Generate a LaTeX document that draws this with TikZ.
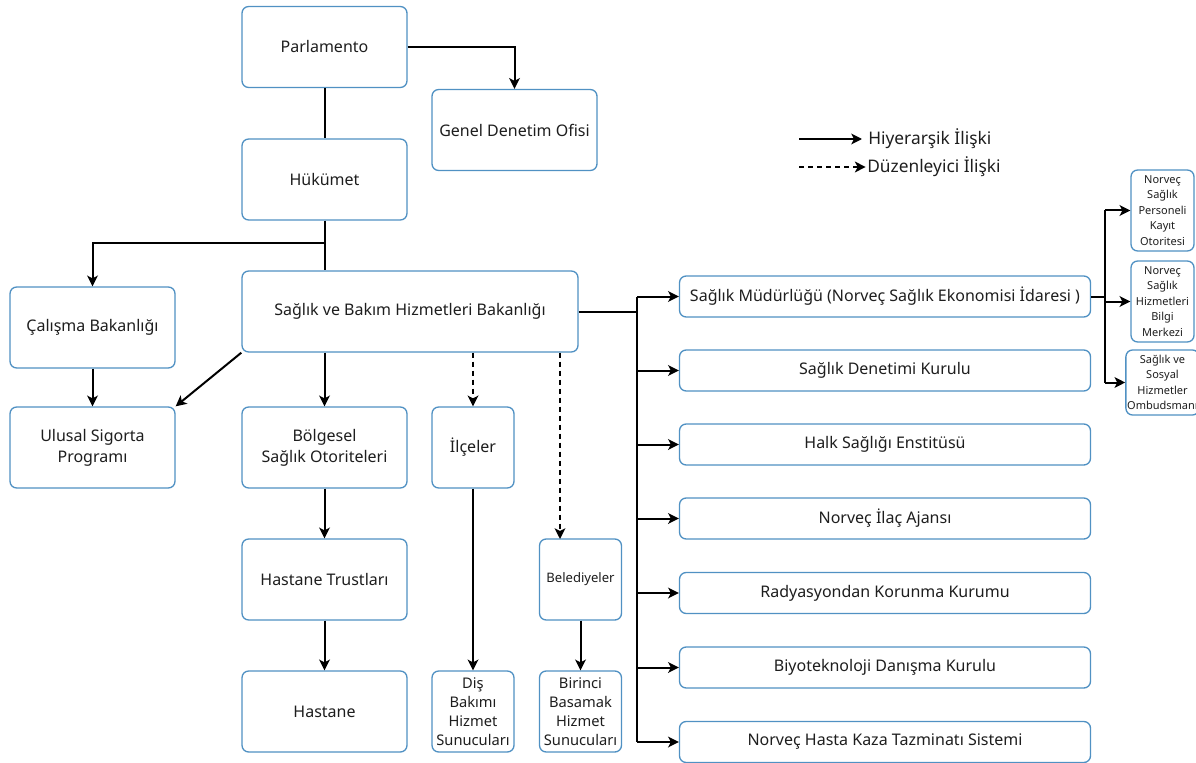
\documentclass[tikz,border=0pt]{standalone}
\usepackage{fontspec}
\setmainfont{Noto Sans}
\usetikzlibrary{arrows.meta}
\definecolor{kutucizgi}{RGB}{80,145,195}
\definecolor{yazirengi}{RGB}{30,30,30}

\begin{document}
\begin{tikzpicture}[x=0.75pt, y=-0.75pt,
    kutu/.style={draw=kutucizgi, line width=1pt, rounded corners=5pt, fill=white, text=yazirengi, align=center, inner sep=1pt, font=\fontsize{12}{15.75}\selectfont},
    buyuk/.style={kutu, minimum width=123.75pt, minimum height=60.75pt},
    dar/.style={kutu, minimum width=61.5pt, minimum height=60.75pt},
    serit/.style={kutu, minimum width=308.25pt, minimum height=30.75pt},
    kucuk/.style={kutu, minimum width=47.25pt, minimum height=60.75pt, font=\fontsize{8.25}{11.6}\selectfont},
    hat/.style={line width=1.5pt, black},
    ok/.style={hat, -{Stealth[length=8pt, width=8pt, inset=2pt]}},
    kesikok/.style={ok, dash pattern=on 3.75pt off 3pt}]
    \useasboundingbox (0,0) rectangle (1196,763);

    % ust kademe
    \node[buyuk] (parl) at (324.5,47) {Parlamento};
    \node[buyuk] (gdo) at (514.5,130) {Genel Denetim Ofisi};
    \node[buyuk] (huk) at (324.5,179.5) {Hükümet};

    % bakanliklar
    \node[buyuk] (calis) at (92.5,327.5) {Çalışma Bakanlığı};
    \node[kutu, minimum width=252pt, minimum height=60.75pt] (sbhb) at (410,311.5) {Sağlık ve Bakım Hizmetleri Bakanlığı};

    % ikinci sira
    \node[buyuk] (usp) at (92.5,447.5) {Ulusal Sigorta\\Programı};
    \node[buyuk] (bso) at (324.5,447.5) {Bölgesel\\Sağlık Otoriteleri};
    \node[dar] (ilce) at (473,447.5) {İlçeler};

    % alt siralar
    \node[buyuk] (htr) at (324.5,579.5) {Hastane Trustları};
    \node[dar, font=\fontsize{9.8}{11.6}\selectfont] (bele) at (580.5,579.5) {Belediyeler};
    \node[buyuk] (hast) at (324.5,711.5) {Hastane};
    \node[dar, font=\fontsize{11}{14.25}\selectfont] (dis) at (473,711.5) {Diş\\Bakımı\\Hizmet\\Sunucuları};
    \node[dar, font=\fontsize{11}{14.25}\selectfont] (bbhs) at (580.5,711.5) {Birinci\\Basamak\\Hizmet\\Sunucuları};

    % sag sutun - bagli kurumlar
    \node[serit] (r1) at (885,296.5) {Sağlık Müdürlüğü (Norveç Sağlık Ekonomisi İdaresi )};
    \node[serit] (r2) at (885,370.5) {Sağlık Denetimi Kurulu};
    \node[serit] (r3) at (885,444.5) {Halk Sağlığı Enstitüsü};
    \node[serit] (r4) at (885,518.5) {Norveç İlaç Ajansı};
    \node[serit] (r5) at (885,593) {Radyasyondan Korunma Kurumu};
    \node[serit] (r6) at (885,667.5) {Biyoteknoloji Danışma Kurulu};
    \node[serit] (r7) at (885,742) {Norveç Hasta Kaza Tazminatı Sistemi};

    % en sag - mudurluge bagli birimler
    \node[kucuk] (s1) at (1162.5,210.5) {Norveç\\Sağlık\\Personeli\\Kayıt\\Otoritesi};
    \node[kucuk] (s2) at (1162.5,301.5) {Norveç\\Sağlık\\Hizmetleri\\Bilgi\\Merkezi};
    \node[kucuk, minimum height=48.75pt] (s3) at (1162.5,382.5) {Sağlık ve\\Sosyal\\Hizmetler\\Ombudsmanı};

    % yardimci noktalar
    \coordinate (dal) at (324.5,243);
    \coordinate (belegiris) at (560,539);
    \coordinate (bus) at (637,0);
    \coordinate (kbus) at (1105,0);

    % ust kademe baglantilari
    \draw[ok] (parl.east) -| (gdo.north);
    \draw[hat] (parl) -- (huk);
    \draw[hat] (huk.south) -- (huk.south |- sbhb.north);
    \draw[ok] (dal) -| (calis.north);

    % bakanlik baglantilari
    \draw[ok] (calis) -- (usp);
    \draw[ok] (sbhb.south west) -- (usp.north east);
    \draw[ok] (bso.north |- sbhb.south) -- (bso.north);
    \draw[kesikok] (ilce.north |- sbhb.south) -- (ilce.north);
    \draw[kesikok] (belegiris |- sbhb.south) -- (belegiris);
    \draw[ok] (bso) -- (htr);
    \draw[ok] (htr) -- (hast);
    \draw[ok] (ilce) -- (dis);
    \draw[ok] (bele) -- (bbhs);

    % sag sutuna dagitim
    \draw[hat] (sbhb.east) -- (sbhb.east -| bus);
    \draw[hat] (bus |- r1) -- (bus |- r7);
    \foreach \i in {1,...,7}
        \draw[ok] (bus |- r\i) -- (r\i.west);

    % mudurluk alt birimleri
    \draw[hat] (r1.east) -- (r1.east -| kbus);
    \draw[hat] (kbus |- s1) -- (kbus |- s3);
    \foreach \i in {1,...,3}
        \draw[ok] (kbus |- s\i) -- (s\i.west);

    % aciklama
    \node[anchor=west, text=yazirengi, font=\fontsize{13}{15}\selectfont, inner sep=0pt] (lg1) at (868,139) {Hiyerarşik İlişki};
    \node[anchor=west, text=yazirengi, font=\fontsize{13}{15}\selectfont, inner sep=0pt] (lg2) at (867,167) {Düzenleyici İlişki};
    \coordinate (lg1bas) at (799,139);
    \coordinate (lg2bas) at (799,167);
    \draw[ok] (lg1bas) -- ([xshift=-4.5pt]lg1.west);
    \draw[kesikok] (lg2bas) -- ([xshift=-1pt]lg2.west);
\end{tikzpicture}
\end{document}
